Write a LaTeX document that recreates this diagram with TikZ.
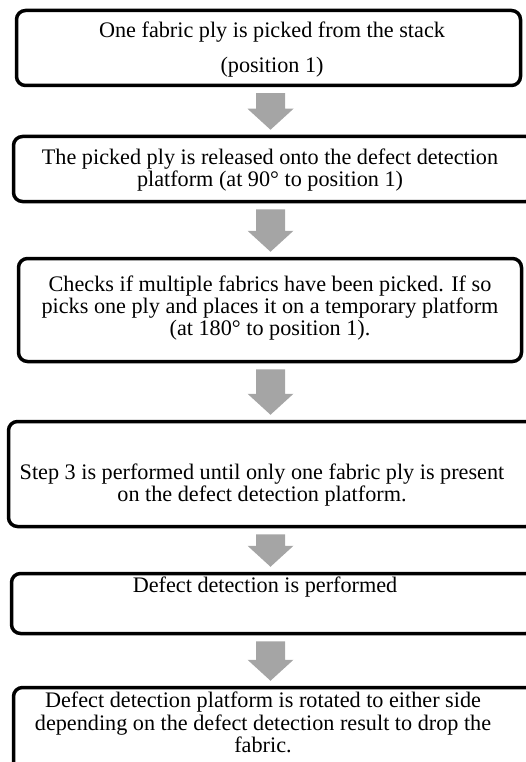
\documentclass[tikz,border=0pt]{standalone}
\usepackage{fontspec}
\setmainfont{Liberation Serif}
\usetikzlibrary{calc}
\definecolor{arrowgray}{HTML}{A5A5A5}
\tikzset{
  stepbox/.style={draw=black, line width=3.5pt, rounded corners=9pt, fill=white, inner sep=0pt},
  steptext/.style={align=center, anchor=base, inner sep=0pt, font=\fontsize{22.2}{22}\selectfont},
}
\newcommand{\blockarrow}[2]{%
  \fill[arrowgray] ($(#1.south -| ax)+(-14.5,6)$) -- ($(#1.south -| ax)+(14.5,6)$)
    -- ($(#2.north -| ax)+(14.5,-26)$) -- ($(#2.north -| ax)+(23,-26)$)
    -- ($(#2.north -| ax)+(0,-5)$) -- ($(#2.north -| ax)+(-23,-26)$)
    -- ($(#2.north -| ax)+(-14.5,-26)$) -- cycle;}
\begin{document}
\begin{tikzpicture}[x=1pt,y=-1pt]
\useasboundingbox (0,0) rectangle (526,762);
\coordinate (ax) at (270.5,0);
% boxes
\node[stepbox, minimum width=504pt, minimum height=75pt] (b1) at (268.5,48) {};
\node[stepbox, minimum width=521.5pt, minimum height=65pt] (b2) at (274.25,169) {};
\node[stepbox, minimum width=503pt, minimum height=103pt] (b3) at (270,310) {};
\node[stepbox, minimum width=526.5pt, minimum height=105pt] (b4) at (271.75,474) {};
\node[stepbox, minimum width=523.5pt, minimum height=60pt] (b5) at (273.25,603.5) {};
\node[stepbox, minimum width=521.5pt, minimum height=92.5pt] (b6) at (274.25,733.75) {};
% texts
\node[steptext] (t1) at (272,73) {One fabric ply is picked from the stack\\[13pt](position 1)};
\node[steptext] (t2) at (270,186) {The picked ply is released onto the defect detection\\platform (at 90° to position 1)};
\node[steptext] (t3) at (270,335) {Checks if multiple fabrics have been picked. If so\\picks one ply and places it on a temporary platform\\(at 180° to position 1).};
\node[steptext] (t4) at (262,501) {Step 3 is performed until only one fabric ply is present\\on the defect detection platform.};
\node[steptext] (t5) at (265,592) {Defect detection is performed};
\node[steptext] (t6) at (263,752.5) {Defect detection platform is rotated to either side\\[0.5pt]depending on the defect detection result to drop the\\[0.5pt]fabric.};
% arrows
\blockarrow{b1}{b2}
\blockarrow{b2}{b3}
\blockarrow{b3}{b4}
\blockarrow{b4}{b5}
\blockarrow{b5}{b6}
\end{tikzpicture}
\end{document}
